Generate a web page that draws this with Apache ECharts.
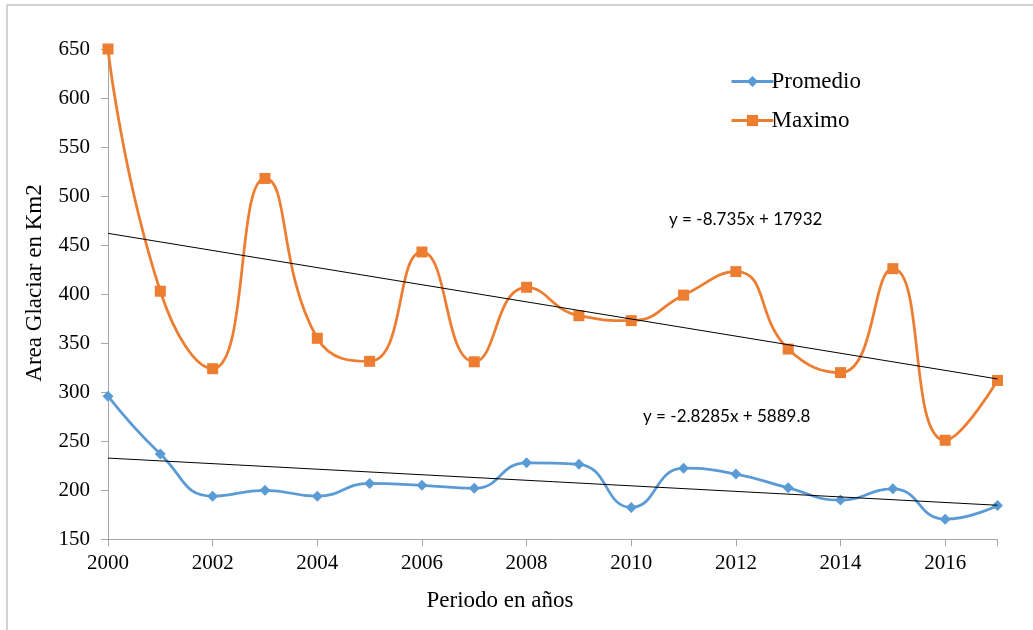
<!DOCTYPE html>
<html>
<head>
<meta charset="utf-8">
<style>
  html, body { margin: 0; padding: 0; background: #fff; }
  #chart { width: 1033px; height: 630px; }
</style>
<script src="https://cdn.jsdelivr.net/npm/echarts@6/dist/echarts.min.js"></script>
</head>
<body>
<div id="chart"></div>
<script>
// Glacier area per year (km²)
const years = [2000, 2001, 2002, 2003, 2004, 2005, 2006, 2007, 2008,
               2009, 2010, 2011, 2012, 2013, 2014, 2015, 2016, 2017];
const promedio = [296, 237, 194, 200, 194, 207, 205, 202, 228,
                  226.5, 182.5, 222.5, 216.5, 202.5, 190, 201.5, 170.5, 184.5];
const maximo = [650, 403, 324, 518, 355, 331.5, 443, 331, 407,
                378, 373, 399, 423, 344, 320, 426, 251, 312];

// Linear trend coefficients (slope, intercept)
const trendMax = [-8.735, 17932];
const trendProm = [-2.8285, 5889.8];
const trendMaxLabel = 'y = -8.735x + 17932';
const trendPromLabel = 'y = -2.8285x + 5889.8';

const xTitle = 'Periodo en años';
const yTitle = 'Area Glaciar en Km2';

const xMin = 2000, xMax = 2017;
function trendPoints(c) {
  return [[xMin, c[0] * xMin + c[1]], [xMax, c[0] * xMax + c[1]]];
}
function pairs(vals) { return years.map((y, i) => [y, vals[i]]); }

const serif = '"Liberation Serif", "Times New Roman", serif';
const sans = 'Lato, "Open Sans", sans-serif';
const axisGray = '#a6a6a6';
const blue = '#5B9BD5';
const orange = '#ED7D31';

const chart = echarts.init(document.getElementById('chart'));
chart.setOption({
  animation: false,
  backgroundColor: '#fff',
  grid: { left: 108, right: 35.5, top: 49, bottom: 90.7, containLabel: false },
  legend: {
    orient: 'vertical',
    left: 725,
    top: 65,
    itemWidth: 42,
    itemHeight: 14,
    itemGap: 16,
    data: [
      { name: 'Promedio', lineStyle: { width: 3, color: blue }, itemStyle: { color: blue } },
      { name: 'Maximo', lineStyle: { width: 3, color: orange }, itemStyle: { color: orange } }
    ],
    textStyle: { fontFamily: serif, fontSize: 23, color: '#000', padding: [0, 0, 0, -7] }
  },
  xAxis: {
    type: 'value',
    min: xMin, max: xMax, interval: 2,
    axisLine: { show: true, lineStyle: { color: axisGray, width: 1 } },
    axisTick: { show: true, length: 7, lineStyle: { color: axisGray } },
    axisLabel: {
      fontFamily: serif, fontSize: 21, color: '#000', margin: 14,
      formatter: v => (v % 2 === 0 ? String(v) : '')
    },
    splitLine: { show: false }
  },
  yAxis: {
    type: 'value',
    min: 150, max: 650, interval: 50,
    axisLine: { show: true, lineStyle: { color: axisGray, width: 1 } },
    axisTick: { show: true, length: 7, lineStyle: { color: axisGray } },
    axisLabel: { fontFamily: serif, fontSize: 21, color: '#000', margin: 18 },
    splitLine: { show: false }
  },
  series: [
    {
      name: 'Promedio',
      type: 'line',
      data: pairs(promedio),
      smooth: 0.5,
      symbol: 'diamond',
      symbolSize: 11,
      color: blue,
      lineStyle: { width: 2.75, color: blue },
      itemStyle: { color: blue },
      z: 3
    },
    {
      name: 'Maximo',
      type: 'line',
      data: pairs(maximo),
      smooth: 0.5,
      symbol: 'rect',
      symbolSize: 11,
      color: orange,
      lineStyle: { width: 2.75, color: orange },
      itemStyle: { color: orange },
      z: 3
    },
    {
      name: 'trendMax',
      type: 'line',
      data: trendPoints(trendMax),
      symbol: 'none',
      lineStyle: { width: 1, color: '#000' },
      silent: true,
      z: 4
    },
    {
      name: 'trendProm',
      type: 'line',
      data: trendPoints(trendProm),
      symbol: 'none',
      lineStyle: { width: 1, color: '#000' },
      silent: true,
      z: 4
    }
  ],
  graphic: [
    {
      type: 'rect',
      shape: { x: 7, y: 5, width: 1100, height: 700 },
      style: { fill: 'none', stroke: '#c4c4c4', lineWidth: 1.5 },
      silent: true
    },
    {
      type: 'text',
      x: 669, y: 220,
      style: { text: trendMaxLabel, font: '17px ' + sans, fill: '#000', verticalAlign: 'middle' }
    },
    {
      type: 'text',
      x: 643, y: 417,
      style: { text: trendPromLabel, font: '17px ' + sans, fill: '#000', verticalAlign: 'middle' }
    },
    {
      type: 'text',
      x: 500, y: 601,
      style: { text: xTitle, font: '23px ' + serif, fill: '#000', align: 'center', verticalAlign: 'middle' }
    },
    {
      type: 'text',
      x: 35, y: 283,
      rotation: Math.PI / 2,
      style: { text: yTitle, font: '23px ' + serif, fill: '#000', align: 'center', verticalAlign: 'middle' }
    }
  ]
});
</script>
</body>
</html>
